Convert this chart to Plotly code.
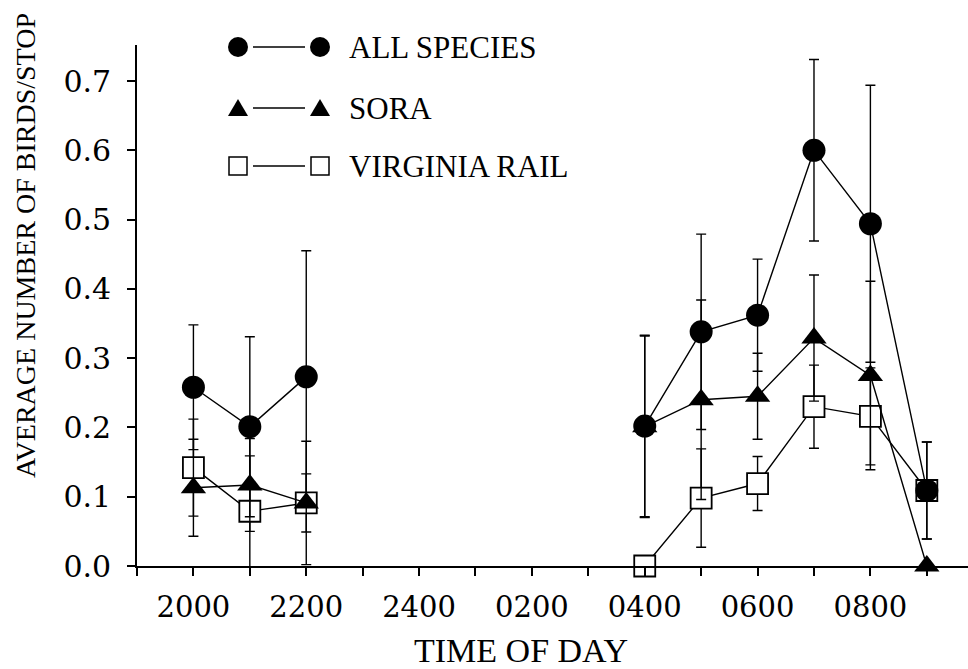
import plotly.graph_objects as go

# ---------------- data ----------------
times = ["2000", "2100", "2200", "0400", "0500", "0600", "0700", "0800", "0900"]
all_species = [0.258, 0.201, 0.273, 0.202, 0.338, 0.362, 0.600, 0.494, 0.109]
all_species_err = [0.090, 0.130, 0.182, 0.131, 0.141, 0.081, 0.131, 0.200, 0.070]
sora = [0.113, 0.117, 0.091, 0.201, 0.240, 0.245, 0.329, 0.275, 0.000]
sora_err = [0.070, 0.067, 0.089, 0.131, 0.144, 0.062, 0.091, 0.136, 0.000]
virginia_rail = [0.142, 0.079, 0.091, 0.000, 0.098, 0.119, 0.230, 0.216, 0.109]
virginia_rail_err = [0.070, 0.080, 0.042, 0.000, 0.071, 0.039, 0.060, 0.070, 0.070]
tick_labels = ["2000", "2200", "2400", "0200", "0400", "0600", "0800"]
series_names = ["ALL SPECIES", "SORA", "VIRGINIA RAIL"]


def hour_index(t):
    # hours counted from 1900
    return (int(t[:2]) - 19) % 24


def with_gaps(xs, ys, es):
    ox, oy, oe = [], [], []
    prev = None
    for x, y, e in zip(xs, ys, es):
        if prev is not None and x - prev > 1:
            ox.append(None); oy.append(None); oe.append(None)
        ox.append(x); oy.append(y); oe.append(e)
        prev = x
    return ox, oy, oe


xi = [hour_index(t) for t in times]

SERIF = "Liberation Serif"
NUM = "DejaVu Serif"

fig = go.Figure()

styles = [
    (virginia_rail, virginia_rail_err, dict(symbol="square", size=21, color="white",
                                            line=dict(color="black", width=1.8))),
    (sora, sora_err, dict(symbol="triangle-up", size=22, color="black",
                          line=dict(color="black", width=0))),
    (all_species, all_species_err, dict(symbol="circle", size=23, color="black",
                                        line=dict(color="black", width=0))),
]
for ys, es, mk in styles:
    gx, gy, ge = with_gaps(xi, ys, es)
    fig.add_trace(go.Scatter(
        x=gx, y=gy, mode="lines+markers", connectgaps=False,
        line=dict(color="black", width=1.4),
        marker=mk,
        error_y=dict(type="data", array=ge, visible=True, color="black",
                     thickness=1.4, width=5),
        cliponaxis=False, showlegend=False,
    ))

# ---------------- layout ----------------
L, R, T, B = 137, 0, 45, 103
W, H = 968, 669
pw, ph = W - L - R, H - T - B

fig.update_layout(
    width=W, height=H,
    margin=dict(l=L, r=R, t=T, b=B),
    paper_bgcolor="white", plot_bgcolor="white",
    showlegend=False,
    xaxis=dict(
        range=[0, 14.73],
        tickvals=[hour_index(t) for t in tick_labels],
        ticktext=tick_labels,
        ticks="outside", ticklen=8, tickwidth=1.5, tickcolor="black",
        minor=dict(dtick=1, tick0=0, ticks="outside", ticklen=8,
                   tickwidth=1.5, tickcolor="black", showgrid=False),
        showline=True, linecolor="black", linewidth=1.8,
        showgrid=False, zeroline=False,
        tickfont=dict(family=NUM, size=29, color="black"),
        ticklabelstandoff=6,
    ),
    yaxis=dict(
        range=[0, 0.752],
        dtick=0.1, tick0=0, tickformat=".1f",
        ticks="outside", ticklen=8, tickwidth=1.5, tickcolor="black",
        showline=True, linecolor="black", linewidth=1.8,
        showgrid=False, zeroline=False,
        tickfont=dict(family=NUM, size=30, color="black"),
        ticklabelstandoff=10,
    ),
)

def px2paper(px, py):
    return (px - L) / pw, (H - B - py) / ph

annotations = []
# axis titles
ax_, ay_ = px2paper(521, 650)
annotations.append(dict(text="TIME OF DAY", x=ax_, y=ay_, xref="paper", yref="paper",
                        showarrow=False, xanchor="center", yanchor="middle",
                        font=dict(family=SERIF, size=34, color="black")))
ax_, ay_ = px2paper(25, 246)
annotations.append(dict(text="AVERAGE NUMBER OF BIRDS/STOP", x=ax_, y=ay_, xref="paper",
                        yref="paper", textangle=-90, showarrow=False,
                        xanchor="center", yanchor="middle",
                        font=dict(family=SERIF, size=28, color="black")))

# custom legend: marker — marker  NAME
shapes = []
rows_y = [47, 108, 166]
m1x, m2x, txt_x = 238, 320, 347
for name, ry in zip(series_names, rows_y):
    xa1, ya = px2paper(m1x, ry)
    xa2, _ = px2paper(m2x, ry)
    # connecting line
    shapes.append(dict(type="line", xref="paper", yref="paper", xsizemode="pixel",
                       ysizemode="pixel", xanchor=xa1, yanchor=ya, x0=15, x1=m2x - m1x - 15,
                       y0=0, y1=0, line=dict(color="black", width=1.5)))
    for xa in (xa1, xa2):
        if name == "ALL SPECIES":
            shapes.append(dict(type="circle", xref="paper", yref="paper", xsizemode="pixel",
                               ysizemode="pixel", xanchor=xa, yanchor=ya, x0=-10, x1=10,
                               y0=-10, y1=10, fillcolor="black", line=dict(width=0)))
        elif name == "SORA":
            shapes.append(dict(type="path", xref="paper", yref="paper", xsizemode="pixel",
                               ysizemode="pixel", xanchor=xa, yanchor=ya,
                               path="M-10,-8 L10,-8 L0,9 Z",
                               fillcolor="black", line=dict(width=0)))
        else:
            shapes.append(dict(type="rect", xref="paper", yref="paper", xsizemode="pixel",
                               ysizemode="pixel", xanchor=xa, yanchor=ya, x0=-9, x1=9,
                               y0=-9, y1=9, fillcolor="white",
                               line=dict(color="black", width=1.5)))
    tx, ty = px2paper(txt_x, ry)
    annotations.append(dict(text=name, x=tx, y=ty, xref="paper", yref="paper",
                            showarrow=False, xanchor="left", yanchor="middle",
                            font=dict(family=SERIF, size=31, color="black")))

fig.update_layout(annotations=annotations, shapes=shapes)

fig.write_html("out.html")
